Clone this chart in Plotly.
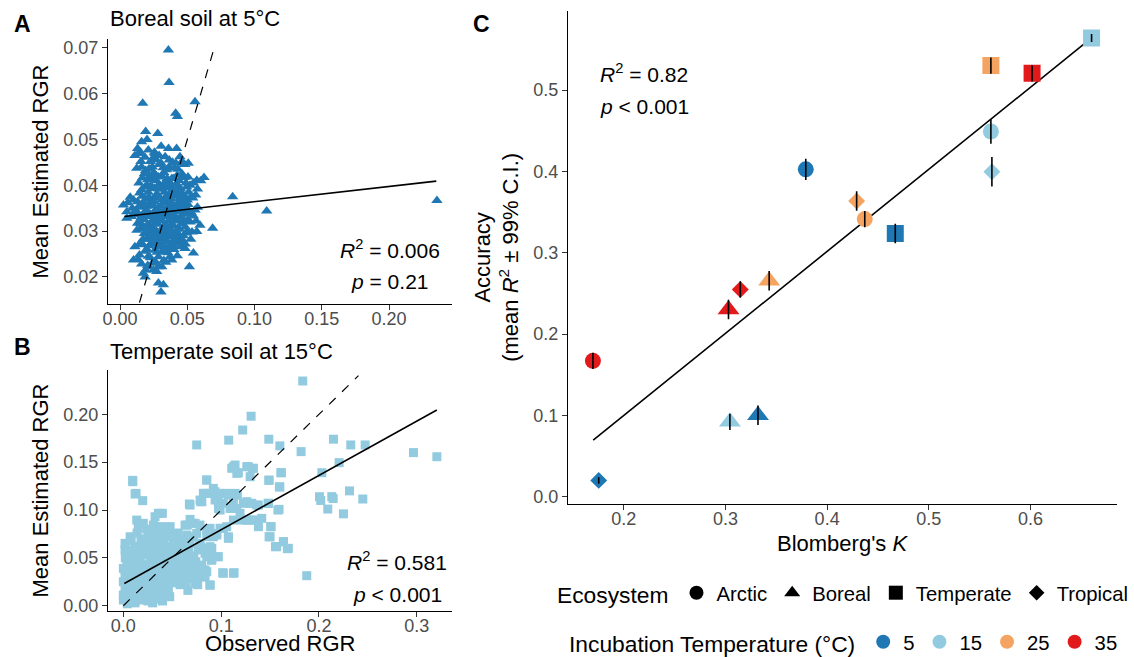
import plotly.graph_objects as go

# ---------------- data ----------------
# Panel A: Boreal soil at 5°C  (observed RGR, mean estimated RGR)
A_points = [
    (0.0359, 0.0695), (0.0364, 0.0624), (0.0168, 0.0579), (0.0557, 0.0582), (0.0413, 0.0557),
    (0.0426, 0.0550), (0.0837, 0.0375), (0.109, 0.0344), (0.2356, 0.0367), (0.0688, 0.0306),
    (0.0515, 0.0222), (0.0304, 0.0167), (0.0322, 0.0183),
    (0.019, 0.0517), (0.028, 0.0513), (0.020, 0.0500), (0.016, 0.0495), (0.0305, 0.0485),
    (0.036, 0.0480), (0.042, 0.0480), (0.021, 0.0477), (0.026, 0.0469), (0.0136, 0.0469),
    (0.015, 0.0472), (0.029, 0.0465), (0.0124, 0.0437), (0.016, 0.0440), (0.0366, 0.0440),
    (0.046, 0.0451), (0.0507, 0.0448), (0.048, 0.0445), (0.027, 0.0455), (0.029, 0.0445),
    (0.024, 0.0440), (0.043, 0.0435), (0.032, 0.0438), (0.019, 0.0432), (0.039, 0.0450),
    (0.057, 0.0411), (0.0624, 0.0417), (0.060, 0.0410), (0.018, 0.0425), (0.022, 0.0420),
    (0.031, 0.0420), (0.035, 0.0415), (0.040, 0.0415), (0.044, 0.0410), (0.049, 0.0405),
    (0.027, 0.0410), (0.014, 0.0405), (0.037, 0.0400), (0.052, 0.0400), (0.020, 0.0400),
    (0.033, 0.0405), (0.025, 0.0428), (0.046, 0.0425), (0.029, 0.0402), (0.042, 0.0402),
    (0.0057, 0.0362), (0.0025, 0.0357), (0.013, 0.0364), (0.0562, 0.0379), (0.054, 0.0372),
    (0.016, 0.0390), (0.021, 0.0385), (0.024, 0.0395), (0.027, 0.0380), (0.030, 0.0392),
    (0.033, 0.0385), (0.036, 0.0378), (0.039, 0.0390), (0.042, 0.0383), (0.045, 0.0392),
    (0.048, 0.0375), (0.051, 0.0385), (0.019, 0.0370), (0.023, 0.0365), (0.026, 0.0372),
    (0.031, 0.0368), (0.035, 0.0362), (0.038, 0.0370), (0.044, 0.0365), (0.047, 0.0362),
    (0.010, 0.0368), (0.050, 0.0368),
    (0.005, 0.0342), (0.005, 0.0328), (0.0557, 0.0346), (0.052, 0.0320), (0.0594, 0.0313),
    (0.009, 0.0350), (0.013, 0.0340), (0.016, 0.0352), (0.019, 0.0345), (0.022, 0.0355),
    (0.025, 0.0340), (0.028, 0.0350), (0.031, 0.0338), (0.034, 0.0348), (0.037, 0.0340),
    (0.040, 0.0352), (0.043, 0.0342), (0.046, 0.0350), (0.049, 0.0338), (0.053, 0.0340),
    (0.018, 0.0325), (0.021, 0.0332), (0.024, 0.0322), (0.027, 0.0330), (0.030, 0.0325),
    (0.033, 0.0332), (0.036, 0.0322), (0.039, 0.0330), (0.042, 0.0325), (0.045, 0.0330),
    (0.048, 0.0322), (0.013, 0.0317),
    (0.057, 0.0299), (0.015, 0.0305), (0.018, 0.0295), (0.020, 0.0312), (0.023, 0.0300),
    (0.026, 0.0315), (0.029, 0.0292), (0.032, 0.0308), (0.035, 0.0298), (0.038, 0.0312),
    (0.041, 0.0295), (0.044, 0.0305), (0.047, 0.0290), (0.050, 0.0300), (0.022, 0.0285),
    (0.025, 0.0282), (0.028, 0.0280), (0.031, 0.0285), (0.034, 0.0282), (0.037, 0.0288),
    (0.040, 0.0281), (0.043, 0.0285), (0.017, 0.0282), (0.027, 0.0300), (0.036, 0.0305),
    (0.011, 0.0266), (0.0144, 0.0248), (0.0285, 0.0244), (0.0371, 0.0244), (0.0384, 0.0237),
    (0.0446, 0.0266), (0.0483, 0.0262), (0.0545, 0.0252), (0.017, 0.0270), (0.020, 0.0260),
    (0.023, 0.0272), (0.026, 0.0258), (0.030, 0.0268), (0.033, 0.0255), (0.036, 0.0265),
    (0.040, 0.0260), (0.042, 0.0275), (0.021, 0.0245),
    (0.010, 0.0237), (0.0173, 0.0208), (0.0186, 0.0200), (0.021, 0.0222), (0.0248, 0.0215),
    (0.0272, 0.0212), (0.031, 0.0222), (0.0285, 0.0187), (0.024, 0.0230), (0.016, 0.0228),
    (0.034, 0.0232), (0.019, 0.0215),
    (0.0185, 0.0396), (0.0255, 0.0393), (0.0315, 0.0398), (0.0375, 0.0394), (0.0435, 0.0397),
    (0.0165, 0.0376), (0.0215, 0.0374), (0.0285, 0.0377), (0.0335, 0.0373), (0.0405, 0.0376),
    (0.0465, 0.0378), (0.0525, 0.0374),
    (0.0145, 0.0356), (0.0195, 0.0354), (0.0245, 0.0357), (0.0305, 0.0355), (0.0365, 0.0353),
    (0.0425, 0.0356), (0.0485, 0.0354),
    (0.0105, 0.0336), (0.0165, 0.0334), (0.0225, 0.0337), (0.0285, 0.0333), (0.0345, 0.0336),
    (0.0405, 0.0334), (0.0465, 0.0337), (0.0545, 0.0333),
    (0.0155, 0.0316), (0.0215, 0.0314), (0.0275, 0.0317), (0.0335, 0.0315), (0.0395, 0.0313),
    (0.0455, 0.0316),
    (0.0205, 0.0296), (0.0255, 0.0294), (0.0315, 0.0297), (0.0375, 0.0295), (0.0435, 0.0293),
    (0.0495, 0.0296),
    (0.0245, 0.0276), (0.0295, 0.0274), (0.0345, 0.0277), (0.0385, 0.0273), (0.0455, 0.0276),
    (0.0185, 0.0256), (0.0275, 0.0254), (0.0315, 0.0257), (0.0355, 0.0253),
    (0.0165, 0.0416), (0.0235, 0.0414), (0.0285, 0.0418), (0.0385, 0.0415), (0.0475, 0.0417),
    (0.0215, 0.0436), (0.0345, 0.0434), (0.0405, 0.0437),
    (0.0185, 0.0461), (0.0245, 0.0459), (0.0335, 0.0462), (0.0110, 0.0465), (0.0130, 0.0480),
    (0.0205, 0.0412), (0.0265, 0.0422), (0.0325, 0.0428), (0.0365, 0.0408), (0.0425, 0.0422),
    (0.0505, 0.0418), (0.0545, 0.0405),
    (0.0145, 0.0383), (0.0225, 0.0398), (0.0285, 0.0392), (0.0345, 0.0395), (0.0395, 0.0382),
    (0.0455, 0.0384), (0.0495, 0.0396), (0.0575, 0.0392),
    (0.0175, 0.0362), (0.0255, 0.0364), (0.0325, 0.0363), (0.0385, 0.0361), (0.0445, 0.0372),
    (0.0505, 0.0358), (0.0075, 0.0374),
    (0.0115, 0.0345), (0.0205, 0.0343), (0.0265, 0.0346), (0.0325, 0.0344), (0.0385, 0.0347),
    (0.0445, 0.0343), (0.0505, 0.0346), (0.0575, 0.0352),
    (0.0085, 0.0332), (0.0155, 0.0328), (0.0255, 0.0328), (0.0315, 0.0322), (0.0375, 0.0326),
    (0.0435, 0.0322), (0.0505, 0.0325), (0.0565, 0.0322),
    (0.0125, 0.0302), (0.0185, 0.0308), (0.0245, 0.0306), (0.0305, 0.0302), (0.0365, 0.0308),
    (0.0425, 0.0304), (0.0485, 0.0309), (0.0535, 0.0298),
    (0.0195, 0.0282), (0.0265, 0.0288), (0.0325, 0.0286), (0.0395, 0.0289), (0.0455, 0.0284),
    (0.0525, 0.0282),
    (0.0145, 0.0272), (0.0215, 0.0268), (0.0275, 0.0266), (0.0335, 0.0264), (0.0395, 0.0268),
    (0.0485, 0.0272),
    (0.0135, 0.0238), (0.0225, 0.0242), (0.0265, 0.0232), (0.0325, 0.0236), (0.0425, 0.0246),
    (0.0205, 0.0225), (0.0285, 0.0222),
    (0.0155, 0.0452), (0.0225, 0.0452), (0.0305, 0.0448), (0.0365, 0.0455), (0.0415, 0.0448),
    (0.0445, 0.0462), (0.0255, 0.0472),
]
A_fit_x = [0.0032, 0.2351]
A_fit_y = [0.0332, 0.0409]
A_identity = [0.0144, 0.0705]

# Panel B: Temperate soil at 15°C
B_points = [
    (0.1834, 0.2348), (0.1306, 0.198), (0.122, 0.1836), (0.1077, 0.173), (0.075, 0.168),
    (0.1487, 0.174), (0.160, 0.167), (0.1817, 0.161), (0.2148, 0.174), (0.2325, 0.168),
    (0.2472, 0.168), (0.2966, 0.160), (0.3205, 0.1557), (0.2206, 0.1495), (0.2029, 0.139),
    (0.2312, 0.120), (0.2448, 0.1115), (0.2005, 0.1139), (0.2018, 0.110), (0.2131, 0.114),
    (0.2145, 0.112), (0.209, 0.101), (0.225, 0.096), (0.1875, 0.0314), (0.0095, 0.131),
    (0.012, 0.1167), (0.0198, 0.1098), (0.1616, 0.139), (0.1487, 0.131), (0.160, 0.124),
    (0.158, 0.100), (0.151, 0.0826), (0.150, 0.072), (0.1637, 0.0669), (0.1677, 0.0596),
    (0.1555, 0.0617), (0.1016, 0.0345), (0.1132, 0.0345), (0.0474, 0.0094),
    (0.0852, 0.1314), (0.0818, 0.1174), (0.0791, 0.1087), (0.092, 0.1226), (0.0938, 0.1105),
    (0.0989, 0.1174), (0.0972, 0.1017), (0.1074, 0.1157), (0.1091, 0.1017), (0.1125, 0.1453),
    (0.116, 0.1383), (0.1142, 0.147), (0.1166, 0.1157), (0.1125, 0.107), (0.1262, 0.1453),
    (0.1319, 0.1436), (0.1296, 0.1348), (0.1227, 0.107), (0.1296, 0.107), (0.1364, 0.1052),
    (0.1262, 0.0895), (0.133, 0.0895), (0.1415, 0.0913), (0.1381, 0.0826), (0.1483, 0.107),
    (0.0682, 0.1052), (0.0682, 0.0902), (0.0716, 0.0861), (0.0784, 0.0843), (0.0631, 0.0843),
    (0.075, 0.0756), (0.0852, 0.0791), (0.092, 0.0721), (0.0955, 0.0756), (0.1023, 0.0808),
    (0.1057, 0.0826), (0.1074, 0.0704), (0.1125, 0.0895), (0.1193, 0.0965), (0.0648, 0.0686),
    (0.0784, 0.0617), (0.0886, 0.0617), (0.0869, 0.053), (0.0955, 0.0512), (0.0903, 0.0477),
    (0.0682, 0.039), (0.075, 0.0373), (0.0818, 0.0373), (0.0886, 0.0216), (0.0648, 0.0286),
    (0.0733, 0.0233), (0.058, 0.0443), (0.0511, 0.0338), (0.0443, 0.0233), (0.0409, 0.0303),
    (0.1108, 0.1436), (0.1278, 0.1453), (0.133, 0.1436), (0.1176, 0.139), (0.161, 0.139),
    (0.149, 0.1313), (0.0853, 0.1313), (0.1595, 0.1243), (0.0937, 0.1191), (0.0835, 0.1174),
    (0.1057, 0.1174), (0.1142, 0.1174), (0.0971, 0.1104), (0.0784, 0.1104), (0.1022, 0.107),
    (0.1262, 0.1087), (0.1313, 0.107), (0.138, 0.1052), (0.148, 0.107), (0.0989, 0.100),
    (0.1108, 0.1017), (0.116, 0.1017), (0.1592, 0.1007), (0.121, 0.0895), (0.1278, 0.0895),
    (0.1347, 0.0895), (0.1507, 0.0826), (0.0989, 0.0809), (0.0886, 0.0809), (0.0955, 0.0739),
    (0.1074, 0.0721), (0.0853, 0.0721), (0.149, 0.0721), (0.0784, 0.0652), (0.1636, 0.0669),
    (0.1568, 0.0617), (0.1687, 0.060), (0.0904, 0.060), (0.0886, 0.0548), (0.0835, 0.0548),
    (0.0971, 0.0512), (0.0904, 0.0478), (0.0835, 0.0373), (0.0835, 0.0303), (0.1022, 0.0339),
    (0.1125, 0.0339), (0.0886, 0.0216),
    (0.0096, 0.1296), (0.013, 0.1174), (0.0675, 0.1063), (0.0802, 0.1087), (0.0886, 0.1174),
    (0.0368, 0.0965), (0.0324, 0.093), (0.0137, 0.0895), (0.0204, 0.0861), (0.0153, 0.0809),
    (0.0307, 0.0843), (0.0393, 0.0826), (0.0478, 0.0826), (0.0654, 0.0843), (0.0733, 0.0861),
    (0.0069, 0.0721), (0.0324, 0.0757), (0.0375, 0.0739), (0.0511, 0.0687), (0.0648, 0.0739),
    (0.0017, 0.0652), (0.0153, 0.0617), (0.0324, 0.0652), (0.0409, 0.0652), (0.0682, 0.0652),
    (0.0017, 0.0582), (0.0102, 0.053), (0.0239, 0.053), (0.0341, 0.0548), (0.0444, 0.0564),
    (0.0546, 0.0548), (0.0648, 0.0548), (0.0767, 0.0582), (0.0853, 0.0512), (0.0035, 0.046),
    (0.0171, 0.0478), (0.029, 0.0478), (0.0409, 0.0478), (0.0529, 0.0478), (0.0682, 0.046),
    (0.0802, 0.0425), (0.0, 0.039), (0.0102, 0.0401), (0.0204, 0.0401), (0.0341, 0.039),
    (0.0478, 0.0401), (0.0597, 0.0373), (0.0716, 0.0355), (0.0853, 0.0355), (0.0017, 0.0321),
    (0.0137, 0.0321), (0.0256, 0.0321), (0.0375, 0.0321), (0.0495, 0.0303), (0.0631, 0.0269),
    (0.075, 0.0269), (0.0, 0.0251), (0.0102, 0.0251), (0.0222, 0.0234), (0.0341, 0.0251),
    (0.046, 0.0234), (0.0017, 0.0182), (0.012, 0.0164), (0.0239, 0.0164), (0.0341, 0.0164),
    (0.0, 0.0112), (0.0102, 0.0112), (0.0204, 0.0112), (0.029, 0.0094), (0.0, 0.006),
    (0.0086, 0.0052), (0.0358, 0.0965), (0.0399, 0.0965), (0.0341, 0.0826), (0.0409, 0.0739),
    (0.005, 0.035), (0.015, 0.036), (0.027, 0.036), (0.040, 0.035), (0.052, 0.036),
    (0.006, 0.044), (0.012, 0.050), (0.022, 0.043), (0.035, 0.044), (0.046, 0.043),
    (0.058, 0.042), (0.005, 0.028), (0.018, 0.028), (0.030, 0.028), (0.042, 0.027),
    (0.055, 0.032), (0.006, 0.021), (0.017, 0.020), (0.029, 0.020), (0.040, 0.020),
    (0.052, 0.024), (0.005, 0.014), (0.016, 0.013), (0.028, 0.014), (0.038, 0.012),
    (0.015, 0.007), (0.025, 0.005), (0.035, 0.007), (0.008, 0.058), (0.018, 0.056),
    (0.028, 0.060), (0.048, 0.062), (0.058, 0.052), (0.060, 0.062), (0.022, 0.066),
    (0.026, 0.072), (0.044, 0.072), (0.056, 0.076), (0.070, 0.045), (0.062, 0.034),
    (0.068, 0.030), (0.058, 0.022), (0.066, 0.016), (0.076, 0.022), (0.080, 0.030),
    (0.072, 0.052), (0.078, 0.064),
    (0.004, 0.002), (0.012, 0.003), (0.020, 0.006), (0.030, 0.003), (0.040, 0.005),
    (0.003, 0.009), (0.014, 0.010), (0.024, 0.011), (0.034, 0.012), (0.044, 0.014),
    (0.008, 0.018), (0.020, 0.017), (0.030, 0.018), (0.046, 0.018),
    (0.004, 0.023), (0.013, 0.024), (0.026, 0.025), (0.036, 0.026), (0.048, 0.028),
    (0.009, 0.030), (0.021, 0.031), (0.032, 0.030), (0.043, 0.032),
    (0.002, 0.037), (0.010, 0.038), (0.019, 0.036), (0.031, 0.038), (0.044, 0.038), (0.056, 0.040),
    (0.007, 0.042), (0.016, 0.043), (0.027, 0.042), (0.040, 0.043), (0.050, 0.044),
    (0.002, 0.050), (0.017, 0.052), (0.028, 0.051), (0.037, 0.050), (0.050, 0.052), (0.062, 0.050),
    (0.006, 0.055), (0.024, 0.057), (0.038, 0.058), (0.046, 0.055),
    (0.012, 0.062), (0.024, 0.062), (0.036, 0.064), (0.053, 0.063),
    (0.008, 0.068), (0.018, 0.070), (0.030, 0.068), (0.040, 0.069), (0.050, 0.074),
    (0.014, 0.076), (0.036, 0.079), (0.024, 0.080), (0.045, 0.082),
    (0.056, 0.028), (0.064, 0.024), (0.070, 0.038), (0.063, 0.042), (0.074, 0.046),
    (0.067, 0.058), (0.058, 0.068), (0.072, 0.072), (0.080, 0.060),
]
B_fit_x = [0.001, 0.3205]
B_fit_y = [0.0233, 0.2045]
B_identity = [0.0, 0.2404]

# Panel C: accuracy vs Blomberg's K
C_K = [0.660, 0.561, 0.6015, 0.561, 0.562, 0.379, 0.429, 0.437,
       0.467, 0.343, 0.3146, 0.303, 0.1697, 0.3044, 0.332, 0.1754]
C_acc = [0.564, 0.530, 0.5205, 0.449, 0.3995, 0.4025, 0.3635, 0.3413,
         0.3237, 0.2655, 0.2548, 0.2302, 0.167, 0.092, 0.100, 0.020]
C_ci = [0.005, 0.010, 0.010, 0.015, 0.018, 0.013, 0.012, 0.010,
        0.012, 0.012, 0.010, 0.012, 0.010, 0.010, 0.012, 0.004]
C_eco = ["Temperate", "Temperate", "Temperate", "Arctic", "Tropical", "Arctic", "Tropical", "Arctic",
         "Temperate", "Boreal", "Tropical", "Boreal", "Arctic", "Boreal", "Boreal", "Tropical"]
C_temp = [15, 25, 35, 15, 15, 5, 25, 25, 5, 25, 35, 35, 35, 15, 5, 5]
C_fit_x = [0.170, 0.660]
C_fit_y = [0.0695, 0.564]

ecosystems = ["Arctic", "Boreal", "Temperate", "Tropical"]
temps = [5, 15, 25, 35]

# ---------------- styles ----------------
FONT = "Liberation Sans, Arial, Helvetica, sans-serif"
COL = {5: "#1f78b4", 15: "#92cbdf", 25: "#f4a460", 35: "#e31a1c"}
SYM = {"Arctic": "circle", "Boreal": "triangle-up", "Temperate": "square", "Tropical": "diamond"}
SIZE = {"Arctic": 16, "Boreal": 19, "Temperate": 17, "Tropical": 13}

W, H = 1134, 657


def px_dom_x(a, b):
    return [a / W, b / W]


def px_dom_y(top, bottom):
    return [1 - bottom / H, 1 - top / H]


fig = go.Figure()

# Panel A
fig.add_trace(go.Scatter(
    x=[p[0] for p in A_points], y=[p[1] for p in A_points], mode="markers",
    marker=dict(symbol="triangle-up", size=10, color=COL[5]),
    xaxis="x", yaxis="y", showlegend=False, hoverinfo="skip"))
fig.add_trace(go.Scatter(x=A_identity, y=A_identity, mode="lines",
                         line=dict(color="black", width=1.2, dash="dash"),
                         xaxis="x", yaxis="y", showlegend=False))
fig.add_trace(go.Scatter(x=A_fit_x, y=A_fit_y, mode="lines",
                         line=dict(color="black", width=1.6),
                         xaxis="x", yaxis="y", showlegend=False))

# Panel B
fig.add_trace(go.Scatter(
    x=[p[0] for p in B_points], y=[p[1] for p in B_points], mode="markers",
    marker=dict(symbol="square", size=9, color=COL[15]),
    xaxis="x2", yaxis="y2", showlegend=False, hoverinfo="skip"))
fig.add_trace(go.Scatter(x=B_identity, y=B_identity, mode="lines",
                         line=dict(color="black", width=1.2, dash="dash"),
                         xaxis="x2", yaxis="y2", showlegend=False))
fig.add_trace(go.Scatter(x=B_fit_x, y=B_fit_y, mode="lines",
                         line=dict(color="black", width=1.6),
                         xaxis="x2", yaxis="y2", showlegend=False))

# Panel C regression line
fig.add_trace(go.Scatter(x=C_fit_x, y=C_fit_y, mode="lines",
                         line=dict(color="black", width=1.6),
                         xaxis="x3", yaxis="y3", showlegend=False))
# Panel C points
for eco in ecosystems:
    idx = [i for i, e in enumerate(C_eco) if e == eco]
    fig.add_trace(go.Scatter(
        x=[C_K[i] for i in idx], y=[C_acc[i] for i in idx], mode="markers",
        marker=dict(symbol=SYM[eco], size=SIZE[eco], color=[COL[C_temp[i]] for i in idx], line=dict(width=0)),
        xaxis="x3", yaxis="y3", showlegend=False))
# Error bars on top
fig.add_trace(go.Scatter(
    x=C_K, y=C_acc, mode="markers", marker=dict(size=1, opacity=0),
    error_y=dict(type="data", array=C_ci, visible=True, color="black", thickness=1.6, width=0),
    xaxis="x3", yaxis="y3", showlegend=False, hoverinfo="skip"))

# Legend entries
for eco in ecosystems:
    fig.add_trace(go.Scatter(
        x=[None], y=[None], mode="markers", name=eco,
        marker=dict(symbol=SYM[eco], size=14 if eco != "Tropical" else 12, color="black"),
        xaxis="x3", yaxis="y3", legend="legend", showlegend=True))
for t in temps:
    fig.add_trace(go.Scatter(
        x=[None], y=[None], mode="markers", name=str(t),
        marker=dict(symbol="circle", size=14, color=COL[t]),
        xaxis="x3", yaxis="y3", legend="legend2", showlegend=True))

axis_common = dict(showline=True, linecolor="black", linewidth=1.1, ticks="outside", ticklen=5,
                   tickcolor="#333333", tickwidth=1.1, showgrid=False, zeroline=False, automargin=False,
                   tickfont=dict(family=FONT, size=18, color="#4d4d4d"))
xaxis_extra = dict(ticklabelstandoff=-7)
title_font = dict(family=FONT, size=22, color="black")

fig.update_layout(
    template="none",
    width=W, height=H, margin=dict(l=0, r=0, t=0, b=0, autoexpand=False),
    paper_bgcolor="white", plot_bgcolor="white",
    font=dict(family=FONT, color="black"),
    xaxis=dict(domain=px_dom_x(108, 452), range=[-0.009, 0.2468],
               tickvals=[0, 0.05, 0.10, 0.15, 0.20], tickformat=".2f", anchor="y",
               **axis_common, **xaxis_extra),
    yaxis=dict(domain=px_dom_y(39, 304), range=[0.0141, 0.0719],
               tickvals=[0.02, 0.03, 0.04, 0.05, 0.06, 0.07], tickformat=".2f", anchor="x",
               title=dict(text="Mean Estimated RGR", font=title_font, standoff=8), **axis_common),
    xaxis2=dict(domain=px_dom_x(108, 452), range=[-0.0157, 0.336],
                tickvals=[0, 0.1, 0.2, 0.3], tickformat=".1f", anchor="y2",
                **axis_common, **xaxis_extra),
    yaxis2=dict(domain=px_dom_y(370, 611), range=[-0.0055, 0.2463],
                tickvals=[0, 0.05, 0.10, 0.15, 0.20], tickformat=".2f", anchor="x2",
                title=dict(text="Mean Estimated RGR", font=title_font, standoff=8), **axis_common),
    xaxis3=dict(domain=px_dom_x(568, 1117), range=[0.1452, 0.685],
                tickvals=[0.2, 0.3, 0.4, 0.5, 0.6], tickformat=".1f", anchor="y3",
                **axis_common, **xaxis_extra),
    yaxis3=dict(domain=px_dom_y(10.7, 504), range=[-0.009, 0.5975],
                tickvals=[0, 0.1, 0.2, 0.3, 0.4, 0.5], tickformat=".1f", anchor="x3",
                title=dict(text="Accuracy<br>(mean <i>R</i><sup>2</sup> ± 99% C.I.)", font=title_font, standoff=8),
                **axis_common),
    legend=dict(orientation="h", x=555 / W, xanchor="left", y=1 - 593 / H, yanchor="middle",
                title=dict(text="Ecosystem", side="left", font=dict(family=FONT, size=22.8)),
                font=dict(family=FONT, size=20.3), bgcolor="rgba(0,0,0,0)", traceorder="normal"),
    legend2=dict(orientation="h", x=567 / W, xanchor="left", y=1 - 642 / H, yanchor="middle",
                 title=dict(text="Incubation Temperature (°C)", side="left", font=dict(family=FONT, size=22.8)),
                 font=dict(family=FONT, size=20.3), bgcolor="rgba(0,0,0,0)", traceorder="normal"),
)

ann_font = dict(family=FONT, size=21, color="black")
annotations = [
    dict(text="<b>A</b>", x=12 / W, y=1 - 24 / H, xanchor="left", yanchor="middle",
         font=dict(family=FONT, size=23, color="black")),
    dict(text="<b>B</b>", x=12 / W, y=1 - 347 / H, xanchor="left", yanchor="middle",
         font=dict(family=FONT, size=23, color="black")),
    dict(text="<b>C</b>", x=471 / W, y=1 - 24 / H, xanchor="left", yanchor="middle",
         font=dict(family=FONT, size=23, color="black")),
    dict(text="Boreal soil at 5°C", x=108 / W, y=1 - 19 / H, xanchor="left", yanchor="middle",
         font=dict(family=FONT, size=22, color="black")),
    dict(text="Temperate soil at 15°C", x=108 / W, y=1 - 351 / H, xanchor="left", yanchor="middle",
         font=dict(family=FONT, size=22, color="black")),
    dict(text="Observed RGR", x=280 / W, y=1 - 643 / H, xanchor="center", yanchor="middle",
         font=dict(family=FONT, size=22, color="black")),
    dict(text="Blomberg's <i>K</i>", x=842.5 / W, y=1 - 543 / H, xanchor="center", yanchor="middle",
         font=dict(family=FONT, size=22, color="black")),
    dict(text="<i>R</i><sup>2</sup> = 0.006", x=390 / W, y=1 - 249 / H, xanchor="center", yanchor="middle", font=ann_font),
    dict(text="<i>p</i> = 0.21", x=390 / W, y=1 - 281 / H, xanchor="center", yanchor="middle", font=ann_font),
    dict(text="<i>R</i><sup>2</sup> = 0.581", x=397 / W, y=1 - 561 / H, xanchor="center", yanchor="middle", font=ann_font),
    dict(text="<i>p</i> &lt; 0.001", x=397 / W, y=1 - 594 / H, xanchor="center", yanchor="middle", font=ann_font),
    dict(text="<i>R</i><sup>2</sup> = 0.82", x=644 / W, y=1 - 73 / H, xanchor="center", yanchor="middle", font=ann_font),
    dict(text="<i>p</i> &lt; 0.001", x=644 / W, y=1 - 107 / H, xanchor="center", yanchor="middle", font=ann_font),
]
for a in annotations:
    a.update(xref="paper", yref="paper", showarrow=False)
fig.update_layout(annotations=annotations)

fig.write_html("out.html", config={"displayModeBar": False},
               post_script="document.body.style.margin='0px';document.body.style.overflow='hidden';")
